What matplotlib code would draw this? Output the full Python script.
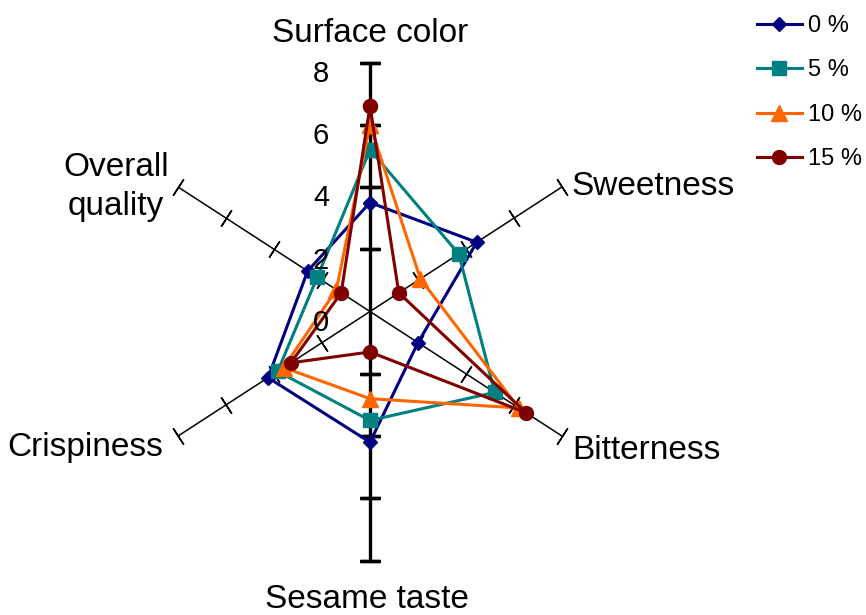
import numpy as np
import matplotlib
matplotlib.use('Agg')
import matplotlib.pyplot as plt

# sensory scores
categories = ['Surface color', 'Sweetness', 'Bitterness', 'Sesame taste', 'Crispiness', 'Overall\nquality']
series_names = ['0 %', '5 %', '10 %', '15 %']
v0 = [3.5, 4.45, 2.0, 4.2, 4.25, 2.6]
v5 = [5.2, 3.7, 5.2, 3.5, 3.85, 2.2]
v10 = [6.0, 2.1, 6.2, 2.8, 3.6, 1.4]
v15 = [6.6, 1.2, 6.5, 1.3, 3.3, 1.2]
ticks = [0, 2, 4, 6, 8]

plt.rcParams['font.family'] = ['Liberation Sans', 'DejaVu Sans']

W, H = 866, 615
fig = plt.figure(figsize=(W / 100, H / 100), dpi=100)

# plot area in pixels (the original is squeezed horizontally)
cx, cy = 370, 311.5
rx, ry = 221.6, 249
ax = fig.add_axes([(cx - rx) / W, (H - cy - ry) / H, 2 * rx / W, 2 * ry / H], projection='polar')
ax.set_aspect('auto')
ax.set_theta_zero_location('N')
ax.set_theta_direction(-1)
ax.set_ylim(0, 8)
ax.grid(False)
ax.set_xticks([])
ax.set_yticks([])
ax.spines['polar'].set_visible(False)

theta = np.arange(len(categories)) * 2 * np.pi / len(categories)

# spokes with tick marks
for i, th in enumerate(theta):
    lw = 2.4 if i in (0, 3) else 1.1
    ax.plot([th, th], [0, 8], color='black', lw=lw, solid_capstyle='butt', zorder=1)
    phi = np.degrees(np.arctan2(np.cos(th) * ry, np.sin(th) * rx))
    ax.plot([th] * 4, ticks[1:], ls='none', marker=(2, 2, phi), ms=14,
            color='black', mec='black', mew=lw, zorder=1, clip_on=False)

colors = ['#000080', '#008080', '#FF6600', '#800000']
markers = ['D', 's', '^', 'o']
msizes = [7.5, 9.5, 11, 10]
closed = np.append(theta, theta[0])
for vals, name, c, m, ms in zip([v0, v5, v10, v15], series_names, colors, markers, msizes):
    ax.plot(closed, vals + vals[:1], color=c, lw=2.2, marker=m, ms=ms,
            mec=c, mfc=c, label=name, zorder=3, clip_on=False)

# scale numbers along the top spoke
for t in ticks:
    ax.annotate(str(t), xy=(0, t), xytext=(-49, -19.5), textcoords='offset pixels',
                ha='center', va='baseline', fontsize=21)

# category labels placed off the spoke ends
label_pos = [(0, 21, 'center', 'baseline'), (10, -8, 'left', 'baseline'),
             (10, -23, 'left', 'baseline'), (-3, -47, 'center', 'baseline'),
             (-15, -20, 'right', 'baseline'), (-62, 0, 'center', 'center')]
for th, lab, (dx, dy, ha, va) in zip(theta, categories, label_pos):
    ax.annotate(lab, xy=(th, 8), xytext=(dx, dy), textcoords='offset pixels',
                ha=ha, va=va, fontsize=24, linespacing=1.35, annotation_clip=False)

ax.legend(loc='upper left', bbox_to_anchor=(757 / W, 1 - 15 / H), bbox_transform=fig.transFigure,
          frameon=False, fontsize=17, handlelength=1.9, handletextpad=0.25,
          labelspacing=0.95, borderpad=0, borderaxespad=0)

fig.savefig('out.png', dpi=100)
